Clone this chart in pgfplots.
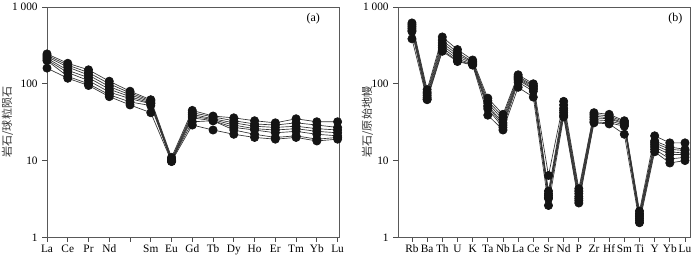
\documentclass[border=0pt]{standalone}
\usepackage{pgfplots}
\usepackage{pgfplotstable}
\pgfplotsset{compat=1.18}
\usepackage{fontspec}
\setmainfont{Liberation Serif}
\newfontfamily\cjk{Noto Sans CJK SC}

\pgfplotstableread{
x s1 s2 s3 s4 s5 s6 s7
0 245 235 225 215 205 200 160
1 185 175 165 150 140 125 118
2 152 140 130 120 110 100 95
3 108 100 92 85 78 72 68
4 80 76 72 68 64 58 53
5 62 60 58 56 55 52 42
6 11 10.5 10.2 10 9.8 10 9.7
7 45 42 40 38 36 32 29
8 38 37 35 34 33 33 25
9 36 33 31 29 27 25 22
10 33 30 28 26 25 22 20
11 31 29 27 25 23 20 19
12 35 31 28 26 24 21 20
13 32 29 26 24 22 19 18
14 32 27 25 23 21 20 19
}\reeA

\pgfplotstableread{
x s1 s2 s3 s4 s5 s6 s7
0 620 590 560 530 500 480 385
1 84 78 74 70 66 63 62
2 407 370 340 316 295 275 265
3 279 255 240 225 210 200 195
4 204 195 190 185 180 177 175
5 65 60 56 52 50 47 39
6 40 37 34 31 29 27 25
7 131 125 120 116 112 105 90
8 100 95 92 88 85 80 67
9 6.4 4.0 3.7 3.5 3.3 3.2 2.6
10 59 53 48 45 42 39 37
11 4.3 4.0 3.7 3.4 3.2 3.0 2.8
12 42 40 38 36 34 32 31
13 40 38 36 35 33 31 30
14 33 32 31 30 29 28 22
15 2.2 2.05 1.95 1.85 1.75 1.65 1.55
16 21 18 17 16 15 14 13
17 17 15 14 13 12 10.5 9.3
18 17 14 13.5 12.5 12 11 10
}\pmtab

\pgfplotsset{
  sp/.style={draw=black!80, line width=0.5pt, mark=*, mark size=3.1pt,
      mark options={fill=black!92, draw=black!92, solid}},
}

\begin{document}
\begin{tikzpicture}
\useasboundingbox (0,0) rectangle (525pt,192.75pt);
\begin{semilogyaxis}[
  scale only axis, width=219.5pt, height=172.75pt,
  ymin=1, ymax=1000,
  ytick={1,10,100,1000}, yticklabels={1,10,100,1\ 000},
  axis line style={draw=black!65, line width=0.7pt},
  tick style={draw=black!70, line width=0.6pt},
  tick align=outside, xtick pos=bottom, ytick pos=left,
  major tick length=3.5pt, minor tick length=0pt,
  tick label style={font=\fontsize{8.5}{10}\selectfont},
  xticklabel style={inner ysep=2pt},
  clip=false,
  at={(35.25pt,14.75pt)}, anchor=south west,
  xmin=0, xmax=14.1,
  xtick={0,...,14},
  xticklabels={La,Ce,Pr,Nd,{},Sm,Eu,Gd,Tb,Dy,Ho,Er,Tm,Yb,Lu},
  ylabel={岩石/球粒陨石},
  ylabel style={font=\cjk\fontsize{8.3}{9}\selectfont, text=black!80, at={(axis description cs:-0.135,0.5)}, anchor=center},
]
\addplot[sp] table[x=x, y=s1] {\reeA};
\addplot[sp] table[x=x, y=s2] {\reeA};
\addplot[sp] table[x=x, y=s3] {\reeA};
\addplot[sp] table[x=x, y=s4] {\reeA};
\addplot[sp] table[x=x, y=s5] {\reeA};
\addplot[sp] table[x=x, y=s6] {\reeA};
\addplot[sp] table[x=x, y=s7] {\reeA};
\node[font=\fontsize{9}{10}\selectfont, anchor=center] at (axis description cs:0.91,0.95) {(a)};
\end{semilogyaxis}

\begin{semilogyaxis}[
  scale only axis, width=219pt, height=172.75pt,
  ymin=1, ymax=1000,
  ytick={1,10,100,1000}, yticklabels={1,10,100,1\ 000},
  axis line style={draw=black!65, line width=0.7pt},
  tick style={draw=black!70, line width=0.6pt},
  tick align=outside, xtick pos=bottom, ytick pos=left,
  major tick length=3.5pt, minor tick length=0pt,
  tick label style={font=\fontsize{8.5}{10}\selectfont},
  xticklabel style={inner ysep=2pt},
  clip=false,
  at={(298.5pt,14.75pt)}, anchor=south west,
  xmin=-0.92, xmax=18.33,
  xtick={0,...,18},
  xticklabels={Rb,Ba,Th,U,K,Ta,Nb,La,Ce,Sr,Nd,P,Zr,Hf,Sm,Ti,Y,Yb,Lu},
  ylabel={岩石/原始地幔},
  ylabel style={font=\cjk\fontsize{8.3}{9}\selectfont, text=black!80, at={(axis description cs:-0.105,0.5)}, anchor=center},
]
\addplot[sp] table[x=x, y=s1] {\pmtab};
\addplot[sp] table[x=x, y=s2] {\pmtab};
\addplot[sp] table[x=x, y=s3] {\pmtab};
\addplot[sp] table[x=x, y=s4] {\pmtab};
\addplot[sp] table[x=x, y=s5] {\pmtab};
\addplot[sp] table[x=x, y=s6] {\pmtab};
\addplot[sp] table[x=x, y=s7] {\pmtab};
\node[font=\fontsize{9}{10}\selectfont, anchor=center] at (axis description cs:0.95,0.95) {(b)};
\end{semilogyaxis}
\end{tikzpicture}
\end{document}
